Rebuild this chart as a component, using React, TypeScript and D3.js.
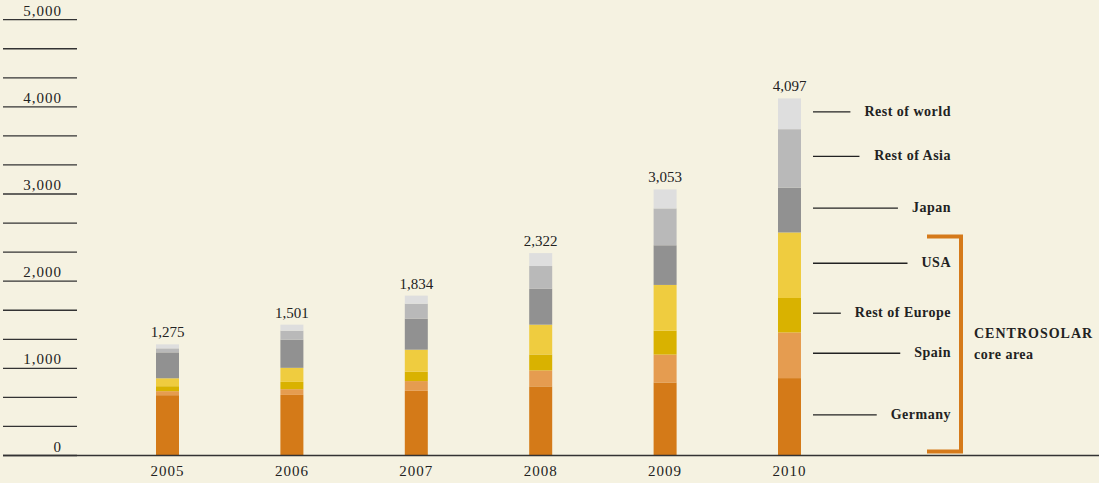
import React from "react";
import * as d3 from "d3";

// Solar market volume by region (MWp), stacked bottom to top
const years = ["2005", "2006", "2007", "2008", "2009", "2010"];
const regions = ["Germany", "Spain", "Rest of Europe", "USA", "Japan", "Rest of Asia", "Rest of world"];
const regionColors = ["#d47a18", "#e59c50", "#d9b200", "#efcc3f", "#919191", "#b9b9b9", "#dedede"];

const germany = [692, 695, 742, 793, 838, 888];
const spain = [46, 66, 112, 183, 320, 524];
const restOfEurope = [57, 84, 107, 183, 274, 395];
const usa = [91, 161, 253, 342, 525, 752];
const japan = [297, 322, 356, 411, 455, 513];
const restOfAsia = [46, 104, 172, 262, 423, 672];
const restOfWorld = [46, 69, 92, 148, 218, 353];

const totals = [1275, 1501, 1834, 2322, 3053, 4097];
const axisLabels = [0, 1000, 2000, 3000, 4000, 5000];
const coreRegions = ["Germany", "Spain", "Rest of Europe", "USA"];

const W = 1099;
const H = 483;
const BG = "#f5f2e1";
const INK = "#222";
const SERIF = "'Liberation Serif', 'DejaVu Serif', serif";

const rows = years.map((year, i) => ({
  year,
  Germany: germany[i],
  Spain: spain[i],
  "Rest of Europe": restOfEurope[i],
  USA: usa[i],
  Japan: japan[i],
  "Rest of Asia": restOfAsia[i],
  "Rest of world": restOfWorld[i],
}));

function textWidth(text: string, font: string, spacing: number): number {
  const canvas = document.createElement("canvas");
  const ctx = canvas.getContext("2d");
  if (!ctx) return text.length * 7;
  ctx.font = font;
  return ctx.measureText(text).width + spacing * text.length;
}

export default function App() {
  const y = d3.scaleLinear().domain([0, 5000]).range([455.5, 19.7]);
  const x = d3.scalePoint<string>().domain(years).range([167.5, 789.5]);
  const barW = 23;

  const stack = d3.stack<any>().keys(regions);
  const series = stack(rows);
  const color = d3.scaleOrdinal<string, string>().domain(regions).range(regionColors);

  const gridValues = d3.range(0, 16).map((i) => (i * 1000) / 3);

  const lastIdx = years.length - 1;
  const legendTextRight = 951;
  const legendLineStart = 813;
  const legendSize = 14;
  const legendSpacing = 0.5;
  const legendFont = `bold ${legendSize}px ${SERIF}`;

  const core = series.filter((s) => coreRegions.includes(s.key as string));
  const coreTop = d3.max(core, (s) => s[lastIdx][1]) as number;
  const bracketTop = y(coreTop) + 4;
  const bracketBottom = y(0) - 4;
  const bracketX = 961;
  const bracketLeft = 927;

  return (
    <svg
      width={W}
      height={H}
      style={{ position: "absolute", left: 0, top: 0, display: "block" }}
      fontFamily={SERIF}
    >
      <rect width={W} height={H} fill={BG} />

      {/* value grid on the left */}
      {gridValues.map((v, i) => (
        <line
          key={"g" + i}
          x1={3}
          x2={77}
          y1={y(v)}
          y2={y(v)}
          stroke="#333"
          strokeWidth={1.3}
        />
      ))}
      {axisLabels.map((v) => (
        <text
          key={"a" + v}
          x={62}
          y={y(v) - 4}
          textAnchor="end"
          fontSize={15}
          letterSpacing={1}
          fill={INK}
        >
          {d3.format(",")(v)}
        </text>
      ))}

      {/* stacked bars */}
      {series.map((s) => (
        <g key={s.key as string} fill={color(s.key as string)}>
          {s.map((d, i) => (
            <rect
              key={years[i]}
              x={(x(years[i]) as number) - barW / 2}
              y={y(d[1])}
              width={barW}
              height={y(d[0]) - y(d[1])}
            />
          ))}
        </g>
      ))}

      {/* totals */}
      {years.map((yr, i) => (
        <text
          key={"t" + yr}
          x={x(yr) as number}
          y={y(totals[i]) - 7}
          textAnchor="middle"
          fontSize={15}
          fill={INK}
        >
          {d3.format(",")(totals[i])}
        </text>
      ))}

      {/* baseline */}
      <line x1={3} x2={W} y1={y(0)} y2={y(0)} stroke="#333" strokeWidth={1.6} />

      {/* year labels */}
      {years.map((yr) => (
        <text
          key={"y" + yr}
          x={x(yr) as number}
          y={476}
          textAnchor="middle"
          fontSize={15}
          letterSpacing={1}
          fill={INK}
        >
          {yr}
        </text>
      ))}

      {/* region labels aligned to the last bar */}
      {series.map((s) => {
        const name = s.key as string;
        const d = s[lastIdx];
        const cy = (y(d[0]) + y(d[1])) / 2 - 2;
        const tw = textWidth(name, legendFont, legendSpacing);
        return (
          <g key={"l" + name}>
            <line
              x1={legendLineStart}
              x2={legendTextRight - tw - 14}
              y1={cy}
              y2={cy}
              stroke={INK}
              strokeWidth={1.3}
            />
            <text
              x={legendTextRight}
              y={cy + 4}
              textAnchor="end"
              fontSize={legendSize}
              fontWeight="bold"
              letterSpacing={legendSpacing}
              fill={INK}
            >
              {name}
            </text>
          </g>
        );
      })}

      {/* core area bracket */}
      <path
        d={`M${bracketLeft},${bracketTop}H${bracketX}V${bracketBottom}H${bracketLeft}`}
        fill="none"
        stroke="#d57a1a"
        strokeWidth={4}
      />
      <text x={974} y={338} fontSize={14} fontWeight="bold" fill={INK} letterSpacing={1}>
        CENTROSOLAR
      </text>
      <text x={974} y={359} fontSize={14} fontWeight="bold" fill={INK} letterSpacing={0.5}>
        core area
      </text>
    </svg>
  );
}
